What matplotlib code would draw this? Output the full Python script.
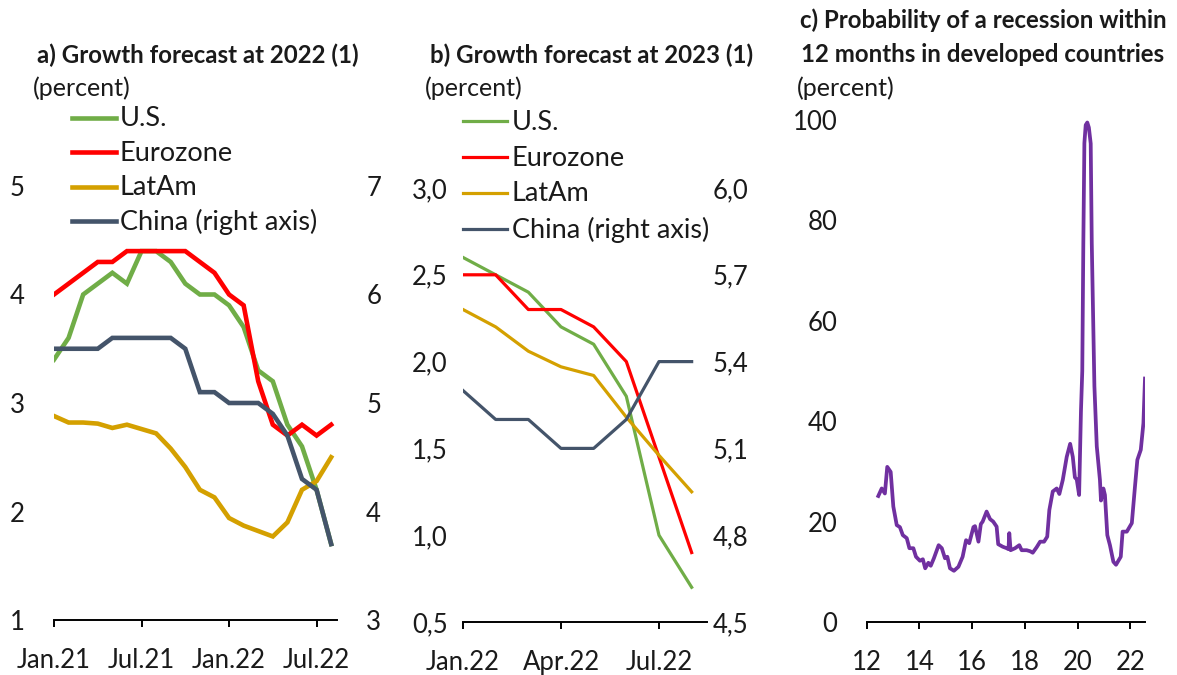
import matplotlib
matplotlib.use("Agg")
import matplotlib.pyplot as plt
from matplotlib.lines import Line2D
from matplotlib.ticker import FixedLocator, FuncFormatter

plt.rcParams["font.family"] = ["Lato", "DejaVu Sans"]

# ---- a) Growth forecast at 2022, monthly Jan.21 .. Aug.22 ----
a_months = list(range(20))
a_tick_pos = [0, 6, 12, 18]
a_tick_labels = ["Jan.21", "Jul.21", "Jan.22", "Jul.22"]
a_us = [3.4, 3.6, 4.0, 4.1, 4.2, 4.1, 4.4, 4.4, 4.3, 4.1,
        4.0, 4.0, 3.9, 3.7, 3.3, 3.2, 2.8, 2.6, 2.2, 1.7]
a_euro = [4.0, 4.1, 4.2, 4.3, 4.3, 4.4, 4.4, 4.4, 4.4, 4.4,
          4.3, 4.2, 4.0, 3.9, 3.2, 2.8, 2.7, 2.8, 2.7, 2.8]
a_latam = [2.88, 2.82, 2.82, 2.81, 2.77, 2.80, 2.76, 2.72, 2.58, 2.41,
           2.20, 2.13, 1.94, 1.87, 1.82, 1.77, 1.90, 2.20, 2.28, 2.50]
a_china = [5.5, 5.5, 5.5, 5.5, 5.6, 5.6, 5.6, 5.6, 5.6, 5.5,
           5.1, 5.1, 5.0, 5.0, 5.0, 4.9, 4.7, 4.3, 4.2, 3.7]

# ---- b) Growth forecast at 2023, monthly Jan.22 .. Aug.22 ----
b_months = list(range(8))
b_tick_pos = [0, 3, 6]
b_tick_labels = ["Jan.22", "Apr.22", "Jul.22"]
b_us = [2.6, 2.5, 2.4, 2.2, 2.1, 1.8, 1.0, 0.7]
b_euro = [2.5, 2.5, 2.3, 2.3, 2.2, 2.0, 1.45, 0.9]
b_latam = [2.3, 2.2, 2.06, 1.97, 1.92, 1.68, 1.46, 1.25]
b_china = [5.3, 5.2, 5.2, 5.1, 5.1, 5.2, 5.4, 5.4]

# ---- c) Probability of a recession within 12 months ----
c_year = [2012.44, 2012.57, 2012.69, 2012.78, 2012.91, 2013.01, 2013.14, 2013.26,
          2013.37, 2013.52, 2013.62, 2013.77, 2013.87, 2014.02, 2014.13, 2014.22,
          2014.34, 2014.43, 2014.55, 2014.73, 2014.85, 2014.97, 2015.06, 2015.16,
          2015.31, 2015.48, 2015.64, 2015.77, 2015.89, 2016.05, 2016.11, 2016.24,
          2016.33, 2016.40, 2016.55, 2016.68, 2016.80, 2016.93, 2016.99, 2017.16,
          2017.31, 2017.38, 2017.41, 2017.46, 2017.63, 2017.79, 2017.88, 2018.07,
          2018.20, 2018.30, 2018.45, 2018.58, 2018.73, 2018.85, 2018.93, 2019.06,
          2019.21, 2019.31, 2019.44, 2019.59, 2019.72, 2019.82, 2019.90, 2019.97,
          2020.06, 2020.13, 2020.18, 2020.22, 2020.26, 2020.31, 2020.37, 2020.43,
          2020.50, 2020.54, 2020.64, 2020.73, 2020.85, 2020.89, 2020.98, 2021.04,
          2021.13, 2021.23, 2021.36, 2021.46, 2021.64, 2021.71, 2021.87, 2022.06,
          2022.18, 2022.27, 2022.40, 2022.50, 2022.56]
c_prob = [25.1, 26.6, 25.6, 30.9, 29.9, 23.0, 19.3, 18.9,
          17.3, 16.7, 14.7, 14.7, 13.0, 12.2, 12.5, 10.7,
          11.8, 11.2, 12.7, 15.3, 14.7, 12.7, 13.0, 10.7,
          10.2, 11.0, 13.0, 16.3, 15.7, 18.9, 19.1, 16.0,
          19.5, 20.0, 22.0, 20.5, 20.0, 19.0, 15.5, 15.0,
          14.7, 14.5, 17.7, 14.3, 14.7, 15.3, 14.3, 14.3,
          14.1, 13.8, 14.9, 16.0, 16.0, 17.0, 22.3, 26.0,
          26.6, 25.5, 28.3, 32.9, 35.5, 32.9, 28.8, 28.4,
          25.3, 42.0, 50.0, 75.5, 95.4, 99.0, 99.5, 98.5,
          95.3, 75.5, 47.0, 35.0, 28.3, 24.2, 26.6, 25.3,
          17.3, 15.3, 12.0, 11.4, 13.0, 18.0, 18.0, 19.7,
          27.0, 32.3, 34.3, 39.6, 48.5]
c_ticks = [2012, 2014, 2016, 2018, 2020, 2022]

C_US = "#70AD47"
C_EURO = "#FF0000"
C_LATAM = "#D4A000"
C_CHINA = "#44546A"
C_PURPLE = "#7030A0"
C_TEXT = "#1a1a1a"

W, H = 1177, 675
fig = plt.figure(figsize=(W / 100, H / 100), dpi=100)

TICK_FS = 18.5
TITLE_FS = 17.3
LEG_FS = 19.5
SUB_FS = 18


def px_axes(x0, x1, y_top, y_bot):
    return fig.add_axes([x0 / W, 1 - y_bot / H, (x1 - x0) / W, (y_bot - y_top) / H])


def style_axes(ax, left_pad):
    for s in ("left", "right", "top"):
        ax.spines[s].set_visible(False)
    ax.spines["bottom"].set_linewidth(1.4)
    ax.tick_params(axis="x", direction="out", length=5, width=1.4,
                   labelsize=TICK_FS, pad=15, colors="black", labelcolor=C_TEXT)
    ax.tick_params(axis="y", length=0, labelsize=TICK_FS, pad=left_pad, labelcolor=C_TEXT)
    ax.patch.set_alpha(0)


def style_twin(ax, pad):
    for s in ("left", "right", "top", "bottom"):
        ax.spines[s].set_visible(False)
    ax.tick_params(axis="y", length=0, labelsize=TICK_FS, pad=pad, labelcolor=C_TEXT)


comma = FuncFormatter(lambda v, p: f"{v:.1f}".replace(".", ","))

# ---------------- panel a ----------------
ax_a = px_axes(54, 337, 186, 620)
style_axes(ax_a, 21)
ax_a.plot(a_months, a_us, color=C_US, lw=3.3, solid_joinstyle="miter")
ax_a.plot(a_months, a_euro, color=C_EURO, lw=3.3, solid_joinstyle="miter")
ax_a.plot(a_months, a_latam, color=C_LATAM, lw=3.3, solid_joinstyle="miter")
ax_a.set_ylim(1, 5)
ax_a.set_yticks([1, 2, 3, 4, 5])
ax_a.set_xlim(0, 19.4)
ax_a.set_xticks(a_tick_pos)
ax_a.set_xticklabels(a_tick_labels)
ax_a2 = ax_a.twinx()
style_twin(ax_a2, 21)
ax_a2.plot(a_months, a_china, color=C_CHINA, lw=3.3, solid_joinstyle="miter")
ax_a2.set_ylim(3, 7)
ax_a2.set_yticks([3, 4, 5, 6, 7])

# ---------------- panel b ----------------
ax_b = px_axes(463, 707, 188, 622)
style_axes(ax_b, 11)
ax_b.plot(b_months, b_us, color=C_US, lw=2.3)
ax_b.plot(b_months, b_euro, color=C_EURO, lw=2.3)
ax_b.plot(b_months, b_latam, color=C_LATAM, lw=2.3)
ax_b.set_ylim(0.5, 3.0)
ax_b.yaxis.set_major_locator(FixedLocator([0.5, 1.0, 1.5, 2.0, 2.5, 3.0]))
ax_b.yaxis.set_major_formatter(comma)
ax_b.set_xlim(0, 7.47)
ax_b.set_xticks(b_tick_pos)
ax_b.set_xticklabels(b_tick_labels)
ax_b2 = ax_b.twinx()
style_twin(ax_b2, 4)
ax_b2.plot(b_months, b_china, color=C_CHINA, lw=2.3)
ax_b2.set_ylim(4.5, 6.0)
ax_b2.yaxis.set_major_locator(FixedLocator([4.5, 4.8, 5.1, 5.4, 5.7, 6.0]))
ax_b2.yaxis.set_major_formatter(comma)

# ---------------- panel c ----------------
ax_c = px_axes(866.7, 1145, 120, 622)
style_axes(ax_c, 21)
ax_c.plot(c_year, c_prob, color=C_PURPLE, lw=2.7, solid_joinstyle="round")
ax_c.set_ylim(0, 100)
ax_c.set_yticks([0, 20, 40, 60, 80, 100])
ax_c.set_xlim(2012, 2022.56)
ax_c.set_xticks(c_ticks)
ax_c.set_xticklabels([f"{t % 100:02d}" for t in c_ticks])

# ---------------- titles ----------------
def ftext(x, y, s, **kw):
    fig.text(x / W, 1 - y / H, s, va="center", color=C_TEXT, **kw)

ftext(198, 55, "a) Growth forecast at 2022 (1)", ha="center", fontsize=TITLE_FS, fontweight="bold")
ftext(33, 88, "(percent)", ha="left", fontsize=SUB_FS)
ftext(592, 55, "b) Growth forecast at 2023 (1)", ha="center", fontsize=TITLE_FS, fontweight="bold")
ftext(425, 88, "(percent)", ha="left", fontsize=SUB_FS)
ftext(983, 20, "c) Probability of a recession within", ha="center", fontsize=TITLE_FS, fontweight="bold")
ftext(983, 55, "12 months in developed countries", ha="center", fontsize=TITLE_FS, fontweight="bold")
ftext(797, 88, "(percent)", ha="left", fontsize=SUB_FS)

# ---------------- legends ----------------
leg_labels = ["U.S.", "Eurozone", "LatAm", "China (right axis)"]
leg_colors = [C_US, C_EURO, C_LATAM, C_CHINA]


def draw_legend(x_line0, x_line1, x_text, y_first, step, lw):
    for i, (lab, col) in enumerate(zip(leg_labels, leg_colors)):
        y = y_first + i * step
        fig.add_artist(Line2D([x_line0 / W, x_line1 / W], [1 - y / H, 1 - y / H],
                              color=col, lw=lw, transform=fig.transFigure))
        ftext(x_text, y + 1, lab, ha="left", fontsize=LEG_FS)


draw_legend(72, 116, 120, 118, 34.3, 3.3)
draw_legend(463, 507, 512, 121, 36, 2.3)

fig.savefig("out.png", dpi=100)
